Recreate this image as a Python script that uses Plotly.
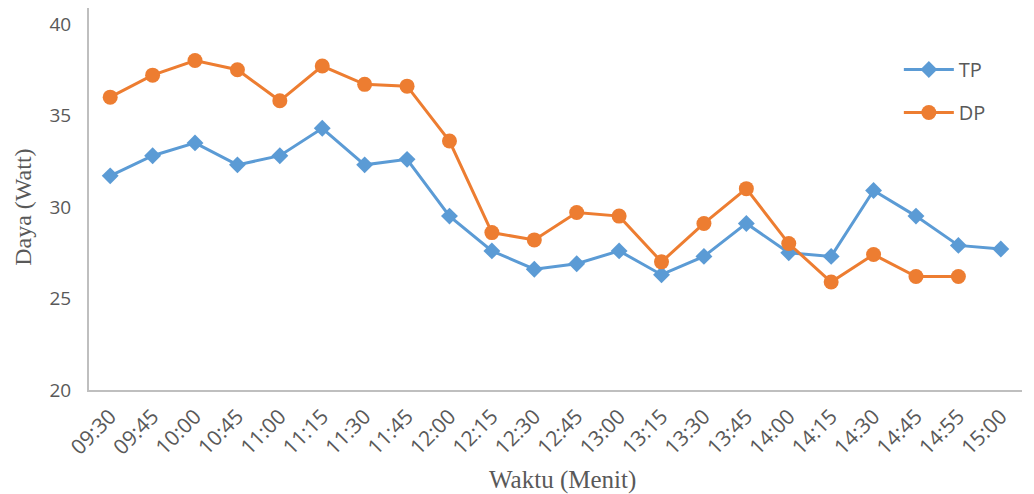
import plotly.graph_objects as go

waktu = ["09:30", "09:45", "10:00", "10:45", "11:00", "11:15", "11:30", "11:45",
         "12:00", "12:15", "12:30", "12:45", "13:00", "13:15", "13:30", "13:45",
         "14:00", "14:15", "14:30", "14:45", "14:55", "15:00"]
tp = [31.7, 32.8, 33.5, 32.3, 32.8, 34.3, 32.3, 32.6, 29.5, 27.6, 26.6, 26.9,
      27.6, 26.3, 27.3, 29.1, 27.5, 27.3, 30.9, 29.5, 27.9, 27.7]
dp = [36.0, 37.2, 38.0, 37.5, 35.8, 37.7, 36.7, 36.6, 33.6, 28.6, 28.2, 29.7,
      29.5, 27.0, 29.1, 31.0, 28.0, 25.9, 27.4, 26.2, 26.2, None]

grey = "#595959"

fig = go.Figure()
fig.add_trace(go.Scatter(
    x=waktu, y=tp, name="TP", mode="lines+markers", legendgroup="tp",
    line=dict(color="#5B9BD5", width=3),
    marker=dict(symbol="diamond", size=13, color="#5B9BD5")
))
fig.add_trace(go.Scatter(
    x=waktu, y=dp, name="DP", mode="lines+markers", legendgroup="dp",
    line=dict(color="#ED7D31", width=3),
    marker=dict(symbol="circle", size=15, color="#ED7D31")
))

# page body has an 8px margin, so the figure is a bit smaller than the window
fig.update_layout(
    width=1018, height=486,
    margin=dict(l=81, r=4, t=0, b=104),
    plot_bgcolor="white", paper_bgcolor="white",
    font=dict(family="Open Sans", color=grey, size=18),
    legend=dict(x=0.868, y=0.89, xanchor="left", yanchor="top",
                font=dict(size=20, color=grey), tracegroupgap=14,
                itemwidth=50, bgcolor="rgba(0,0,0,0)"),
    xaxis=dict(
        type="category", range=[-0.5, 21.5], tickangle=-45, automargin=False,
        showline=True, linecolor="#BFBFBF", linewidth=2, showgrid=False,
        ticks="", ticklabelstandoff=4, tickfont=dict(size=21, color=grey),
    ),
    yaxis=dict(
        range=[20, 40.87], tickvals=[20, 25, 30, 35, 40], automargin=False,
        showline=True, linecolor="#BFBFBF", linewidth=2, showgrid=False,
        zeroline=False, ticks="", ticklabelstandoff=12,
        tickfont=dict(size=19, color=grey),
    ),
)

# axis titles placed by hand, the plotly ones get squeezed by the margins
fig.add_annotation(
    text="Daya (Watt)", textangle=-90, showarrow=False, borderpad=0,
    xref="paper", yref="paper", x=-0.071, y=0.479,
    xanchor="center", yanchor="middle",
    font=dict(family="Liberation Serif", size=24, color=grey),
)
fig.add_annotation(
    text="Waktu (Menit)", showarrow=False, borderpad=0,
    xref="paper", yref="paper", x=0.507, y=-0.236,
    xanchor="center", yanchor="middle",
    font=dict(family="Liberation Serif", size=25, color=grey),
)

fig.write_html("out.html")
